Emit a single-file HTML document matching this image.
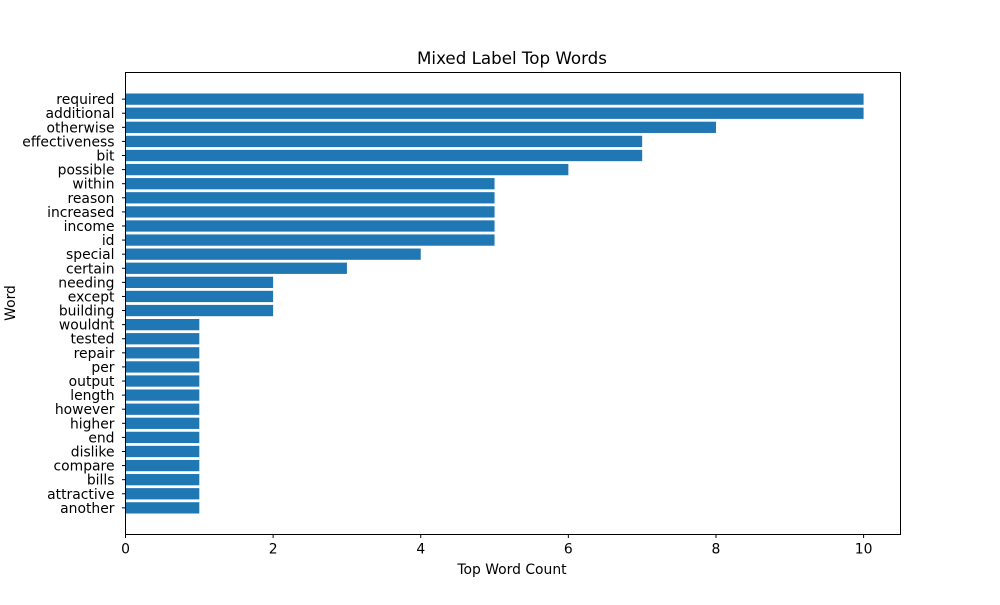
<!DOCTYPE html>
<html><head><meta charset="utf-8"><style>
body{margin:0;background:#fff;}
svg text{font-family:"DejaVu Sans","Liberation Sans",sans-serif;fill:#000;}
</style></head><body>
<svg id="chart" width="1000" height="600" xmlns="http://www.w3.org/2000/svg">
<rect width="1000" height="600" fill="#fff"/>
<text x="512" y="64" font-size="16.7" text-anchor="middle">Mixed Label Top Words</text>
<text x="512" y="574" font-size="13.9" text-anchor="middle">Top Word Count</text>
<text transform="translate(15,303) rotate(-90)" font-size="13.9" text-anchor="middle">Word</text>
<g id="bars"></g>
<g id="xticks"></g>
<g id="yticks"></g>
<rect x="125.5" y="72.5" width="775" height="462" fill="none" stroke="#000" stroke-width="1"/>
</svg>
<script>
const categories = ["required","additional","otherwise","effectiveness","bit","possible","within","reason","increased","income","id","special","certain","needing","except","building","wouldnt","tested","repair","per","output","length","however","higher","end","dislike","compare","bills","attractive","another"];
const counts = [10,10,8,7,7,6,5,5,5,5,5,4,3,2,2,2,1,1,1,1,1,1,1,1,1,1,1,1,1,1];
const xTickValues = [0,2,4,6,8,10];
const xTickLabels = ["0","2","4","6","8","10"];

const L=125.5,R=900.5,T=72.5,B=534.5;
const xMax=10.5;
const n=categories.length;
const yMin=-0.4-0.05*(n-1+0.8), yMax=(n-1)+0.4+0.05*(n-1+0.8);
const x=v=>L+v/xMax*(R-L);
const y=i=>B-((n-1-i)-yMin)/(yMax-yMin)*(B-T);
const bh=0.8*(B-T)/(yMax-yMin);
const NS="http://www.w3.org/2000/svg";
const mk=(t,a,p)=>{const e=document.createElementNS(NS,t);for(const k in a)e.setAttribute(k,a[k]);p.appendChild(e);return e;};
const bars=document.getElementById('bars'),yt=document.getElementById('yticks'),xt=document.getElementById('xticks');
categories.forEach((c,i)=>{
  const r=mk('rect',{x:x(0),y:y(i)-bh/2,width:x(counts[i])-x(0),height:bh,fill:'#1f77b4'},bars);
  
  
  const tk=mk('line',{x1:L-3.5,x2:L,y1:y(i),y2:y(i),stroke:'#000','stroke-width':1},yt);
  
  
  const tx=mk('text',{x:L-11,y:y(i)+5,'font-size':13.9,'text-anchor':'end'},yt);
  tx.textContent=c;
  
  
});
xTickValues.forEach((v,i)=>{
  const tk=mk('line',{x1:x(v),x2:x(v),y1:B,y2:B+3.5,stroke:'#000','stroke-width':1},xt);
  
  
  const tx=mk('text',{x:x(v),y:B+19,'font-size':13.9,'text-anchor':'middle'},xt);
  tx.textContent=xTickLabels[i];
  
  
});
</script>
</body></html>
